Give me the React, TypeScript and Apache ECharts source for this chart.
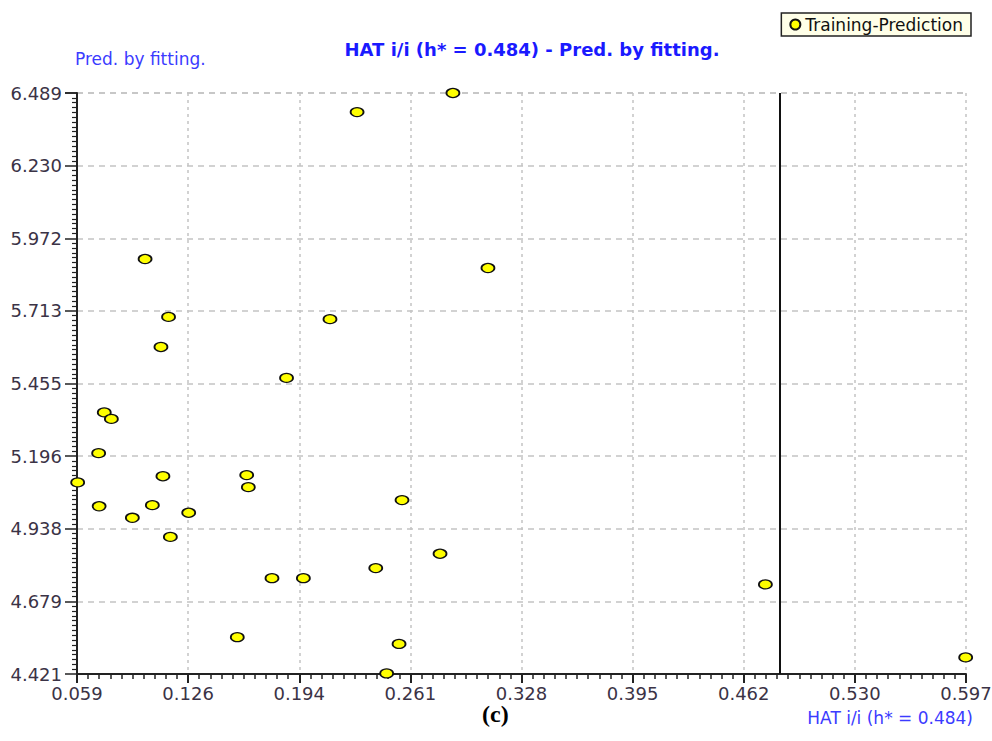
import React, { useEffect, useRef } from "react";
import * as echarts from "echarts";

const hatValues: number[] = [
  0.2865, 0.2285, 0.1002, 0.3077, 0.1144, 0.2121, 0.1098, 0.1858, 0.0755, 0.0798,
  0.0721, 0.0594, 0.111, 0.0724, 0.1046, 0.0925, 0.1266, 0.1155, 0.1617, 0.1627,
  0.2557, 0.2787, 0.2398, 0.177, 0.196, 0.156, 0.2539, 0.2464, 0.4756, 0.5968,
];
const predValues: number[] = [
  6.489, 6.421, 5.898, 5.866, 5.692, 5.684, 5.585, 5.475, 5.352, 5.329,
  5.207, 5.103, 5.125, 5.018, 5.022, 4.977, 4.995, 4.909, 5.129, 5.086,
  5.04, 4.849, 4.798, 4.762, 4.762, 4.552, 4.528, 4.423, 4.74, 4.48,
];
const xTickLabels: string[] = ["0.059", "0.126", "0.194", "0.261", "0.328", "0.395", "0.462", "0.530", "0.597"];
const yTickLabels: string[] = ["4.421", "4.679", "4.938", "5.196", "5.455", "5.713", "5.972", "6.230", "6.489"];
const hStar = 0.484;
const seriesName = "Training-Prediction";

const X_MIN = 0.059;
const X_MAX = 0.597;
const Y_MIN = 4.421;
const Y_MAX = 6.489;

export default function App() {
  const ref = useRef<HTMLDivElement>(null);
  useEffect(() => {
    if (!ref.current) return;
    const chart = echarts.init(ref.current, undefined, { renderer: "svg" });
    const xInt = (X_MAX - X_MIN) / (xTickLabels.length - 1);
    const yInt = (Y_MAX - Y_MIN) / (yTickLabels.length - 1);
    const labelColor = "#3b3346";
    const font = "DejaVu Sans, Verdana, sans-serif";
    chart.setOption({
      animation: false,
      backgroundColor: "#ffffff",
      grid: { left: 77, right: 26, top: 93, bottom: 67, containLabel: false, outerBoundsMode: "none" },
      title: [
        {
          text: "HAT i/i (h* = 0.484) - Pred. by fitting.",
          left: 527,
          top: 35,
          textAlign: "center",
          textStyle: { color: "#1a1aff", fontSize: 18, fontWeight: "bold", fontFamily: font },
        },
      ],
      graphic: [
        {
          type: "text",
          left: 75,
          top: 50,
          style: { text: "Pred. by fitting.", fill: "#3b3bff", fontSize: 17, fontFamily: font },
        },
        {
          type: "text",
          right: 19,
          top: 709,
          style: { text: "HAT i/i (h* = 0.484)", fill: "#3b3bff", fontSize: 17, fontFamily: font },
        },
        {
          type: "text",
          left: 482,
          top: 702,
          style: { text: "(c)", fill: "#000000", fontSize: 24, fontWeight: "bold", fontFamily: "Liberation Serif, Times New Roman, serif" },
        },
      ],
      legend: {
        right: 21,
        top: 13,
        data: [seriesName],
        backgroundColor: "#ffffe8",
        borderColor: "#222222",
        borderWidth: 1.5,
        borderRadius: 0,
        padding: [3, 8, 3, 8],
        itemWidth: 12,
        itemHeight: 10,
        itemGap: 4,
        icon: "circle",
        textStyle: { color: "#111111", fontSize: 17, fontFamily: font, padding: [0, 0, 0, -1] },
      },
      xAxis: {
        type: "value",
        min: X_MIN,
        max: X_MAX,
        interval: xInt,
        axisLine: { show: true, onZero: false, lineStyle: { color: "#222222", width: 2 } },
        axisTick: { show: true, length: 9, lineStyle: { color: "#222222", width: 2 } },
        minorTick: { show: true, splitNumber: 10, length: 5, lineStyle: { color: "#222222", width: 1.5 } },
        axisLabel: {
          margin: 10,
          color: labelColor,
          fontSize: 18,
          fontFamily: font,
          formatter: (v: number) => xTickLabels[Math.round((v - X_MIN) / xInt)] ?? "",
        },
        splitLine: { show: true, lineStyle: { color: "#c4c4c4", type: [3, 4], width: 1.5 } },
      },
      yAxis: {
        type: "value",
        min: Y_MIN,
        max: Y_MAX,
        interval: yInt,
        axisLine: { show: true, onZero: false, lineStyle: { color: "#222222", width: 2 } },
        axisTick: { show: true, length: 12, lineStyle: { color: "#222222", width: 1.5 } },
        minorTick: { show: true, splitNumber: 15, length: 5, lineStyle: { color: "#222222", width: 1.2 } },
        axisLabel: {
          margin: 15,
          color: labelColor,
          fontSize: 18,
          fontFamily: font,
          formatter: (v: number) => yTickLabels[Math.round((v - Y_MIN) / yInt)] ?? "",
        },
        splitLine: { show: true, lineStyle: { color: "#c4c4c4", type: [6, 5], width: 1.5 } },
      },
      series: [
        {
          name: seriesName,
          type: "scatter",
          clip: false,
          symbol: "circle",
          symbolSize: [13, 9],
          itemStyle: { color: "#ffff00", borderColor: "#111111", borderWidth: 1.5, opacity: 1 },
          data: hatValues.map((x, i) => [x, predValues[i]]),
          markLine: {
            silent: true,
            symbol: "none",
            precision: 4,
            label: { show: false },
            lineStyle: { color: "#111111", width: 2, type: "solid" },
            data: [{ xAxis: hStar }],
          },
          z: 3,
        },
      ],
    });
    return () => chart.dispose();
  }, []);
  return <div ref={ref} style={{ width: 992, height: 741, position: "absolute", left: 0, top: 0 }} />;
}
